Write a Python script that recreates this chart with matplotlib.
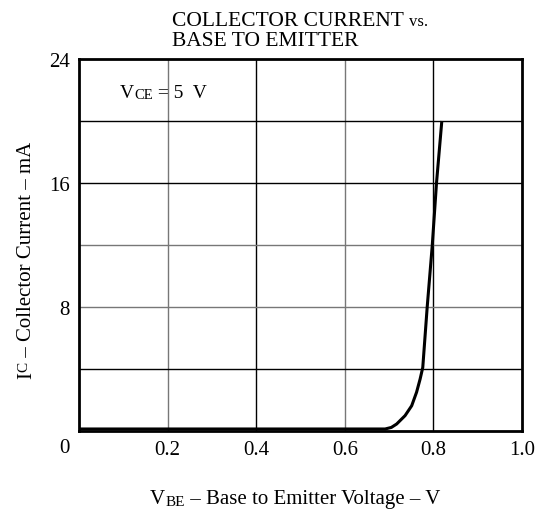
import matplotlib
matplotlib.use("Agg")
import matplotlib.pyplot as plt

# ---- data ----
vbe = [0.0, 0.2, 0.4, 0.6, 0.691, 0.705, 0.717, 0.736, 0.751, 0.762, 0.770, 0.776, 0.786, 0.7975, 0.807, 0.819]
ic = [0.13, 0.13, 0.13, 0.13, 0.13, 0.23, 0.45, 0.99, 1.63, 2.5, 3.35, 4.1, 8.0, 12.0, 16.0, 20.0]

x_ticks = [0.2, 0.4, 0.6, 0.8, 1.0]
x_tick_labels = ["0.2", "0.4", "0.6", "0.8", "1.0"]
y_ticks = [8, 16, 24]
y_tick_labels = ["8", "16", "24"]
x_grid = [0.2, 0.4, 0.6, 0.8]
x_grid_colors = ["#777777", "#000000", "#777777", "#000000"]
y_grid = [4, 8, 12, 16, 20]
y_grid_colors = ["#000000", "#777777", "#777777", "#000000", "#000000"]

FONT = "Liberation Serif"
plt.rcParams["font.family"] = [FONT, "DejaVu Serif"]

W, H = 535, 510
fig = plt.figure(figsize=(W / 100, H / 100), dpi=100)
L, R, T, B = 79, 522, 60, 432
ax = fig.add_axes([L / W, 1 - B / H, (R - L) / W, (B - T) / H])
ax.set_xlim(0, 1.0)
ax.set_ylim(0, 24)

for xv, c in zip(x_grid, x_grid_colors):
    ax.axvline(xv, color=c, lw=1.0, zorder=1)
for yv, c in zip(y_grid, y_grid_colors):
    ax.axhline(yv, color=c, lw=1.0, zorder=1)

ax.plot(vbe, ic, color="black", lw=2.2, zorder=3, solid_capstyle="butt", solid_joinstyle="round")

for s in ax.spines.values():
    s.set_linewidth(2.0)
    s.set_color("black")

ax.set_xticks(x_ticks)
ax.set_xticklabels(x_tick_labels, fontsize=15)
ax.set_yticks(y_ticks)
ax.set_yticklabels(y_tick_labels, fontsize=15)
ax.tick_params(length=0)
ax.tick_params(axis="y", pad=6.5)
ax.tick_params(axis="x", pad=6.5)

# shared origin label
fig.text(64 / W, 1 - 449 / H, "0", fontsize=15, ha="center", va="center")

# title
t1 = fig.text(172 / W, 1 - 25.5 / H, "COLLECTOR CURRENT ", fontsize=15.5, ha="left", va="baseline")
plt.annotate("vs.", xy=(1, 0), xycoords=t1, fontsize=12, ha="left", va="bottom",
             annotation_clip=False)
fig.text(172 / W, 1 - 45.5 / H, "BASE TO EMITTER", fontsize=15.5, ha="left", va="baseline")

# V_CE annotation
tv = fig.text(120 / W, 1 - 98 / H, "V", fontsize=14, ha="left", va="baseline")
a1 = plt.annotate("CE", xy=(1, 0), xycoords=tv, fontsize=10.5, ha="left", va="bottom",
                  annotation_clip=False)
plt.annotate(" = 5  V", xy=(1, 0), xycoords=a1, fontsize=14, ha="left", va="bottom",
             annotation_clip=False)

# x label
xl = fig.text(150 / W, 1 - 504 / H, "V", fontsize=15, ha="left", va="baseline")
x2 = plt.annotate("BE", xy=(1, 0), xycoords=xl, fontsize=11, ha="left", va="bottom",
                  annotation_clip=False)
plt.annotate(" \u2013 Base to Emitter Voltage \u2013 V", xy=(1, 0), xycoords=x2, fontsize=15,
             ha="left", va="bottom", annotation_clip=False)

# y label
yl = fig.text(17 / W, 1 - 379 / H, "I", fontsize=15, ha="left", va="bottom", rotation=90)
y2 = plt.annotate("C", xy=(0, 1), xycoords=yl, fontsize=11, ha="left", va="bottom",
                  rotation=90, annotation_clip=False)
plt.annotate(" \u2013 Collector Current \u2013 mA", xy=(0, 1), xycoords=y2, fontsize=15,
             ha="left", va="bottom", rotation=90, annotation_clip=False)

fig.savefig("out.png", dpi=100)
